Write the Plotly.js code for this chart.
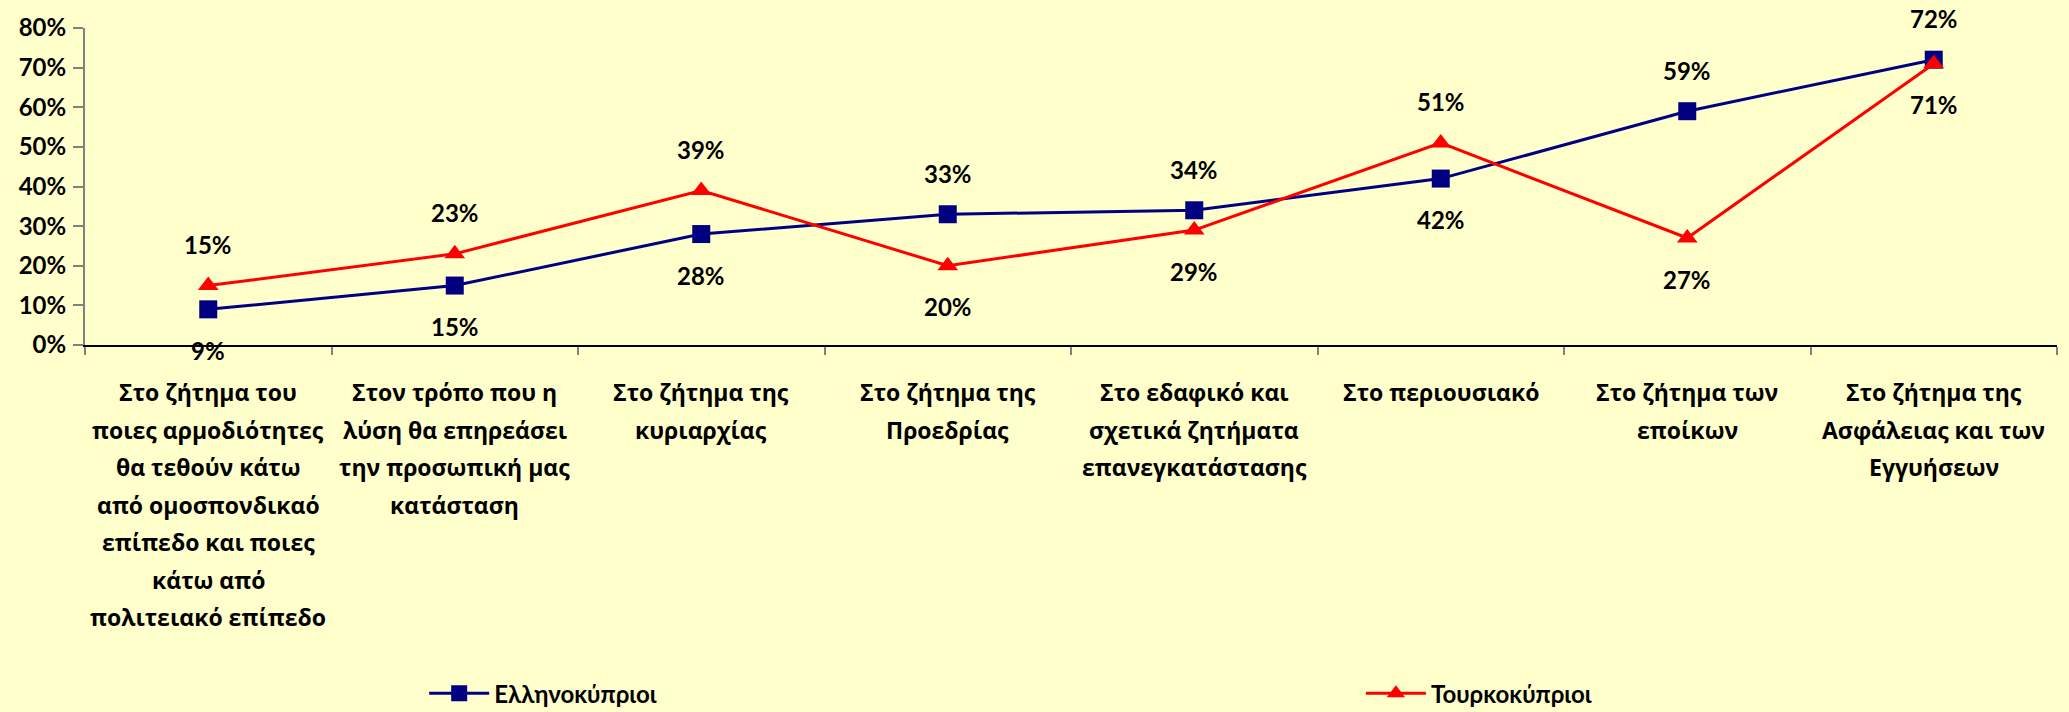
<!DOCTYPE html>
<html>
<head>
<meta charset="utf-8">
<script src="https://cdn.plot.ly/plotly-3.0.1.min.js"></script>
<style>html,body{margin:0;padding:0;background:#FFFFCC;}#chart{width:2069px;height:712px;}</style>
</head>
<body>
<div id="chart"></div>
<script>
// ---- data ----
const categories = [
  "Στο ζήτημα του<br>ποιες αρμοδιότητες<br>θα τεθούν κάτω<br>από ομοσπονδικαό<br>επίπεδο και ποιες<br>κάτω από<br>πολιτειακό επίπεδο",
  "Στον τρόπο που η<br>λύση θα επηρεάσει<br>την προσωπική μας<br>κατάσταση",
  "Στο ζήτημα της<br>κυριαρχίας",
  "Στο ζήτημα της<br>Προεδρίας",
  "Στο εδαφικό και<br>σχετικά ζητήματα<br>επανεγκατάστασης",
  "Στο περιουσιακό",
  "Στο ζήτημα των<br>εποίκων",
  "Στο ζήτημα της<br>Ασφάλειας και των<br>Εγγυήσεων"
];
const greekCypriots = [9, 15, 28, 33, 34, 42, 59, 72];
const turkishCypriots = [15, 23, 39, 20, 29, 51, 27, 71];
const greekLabelPos = ["below","below","below","above","above","below","above","above"];
const turkishLabelPos = ["above","above","above","below","below","above","below","below"];
const yTickVals = [0, 10, 20, 30, 40, 50, 60, 70, 80];
const yTickText = ["0%", "10%", "20%", "30%", "40%", "50%", "60%", "70%", "80%"];
const seriesNames = ["Ελληνοκύπριοι", "Τουρκοκύπριοι"];

// ---- styles ----
const numFont = {family: "Lato, 'DejaVu Sans', sans-serif", size: 24, color: "#000000", weight: 700};
const catFont = {family: "'Liberation Sans Narrow', 'Open Sans', sans-serif", size: 23, color: "#000000", weight: 700};
const legFont = {family: "Lato, 'DejaVu Sans', sans-serif", size: 24, color: "#000000", weight: 700};
const xIdx = categories.map((c, i) => i);

const traces = [
  {
    x: xIdx, y: greekCypriots, name: seriesNames[0], type: "scatter", mode: "lines+markers",
    line: {color: "#000080", width: 3},
    marker: {symbol: "square", size: 18, color: "#000080"},
    legend: "legend", hoverinfo: "y"
  },
  {
    x: xIdx, y: turkishCypriots, name: seriesNames[1], type: "scatter", mode: "lines+markers",
    line: {color: "#FF0000", width: 3},
    marker: {symbol: "triangle-up", size: 18, color: "#FF0000"},
    legend: "legend2", hoverinfo: "y"
  }
];

const annotations = [];
function addLabels(vals, pos) {
  vals.forEach((v, i) => {
    annotations.push({
      x: i, y: v, xref: "x", yref: "y", text: v + "%", showarrow: false,
      font: numFont, xanchor: "center", yanchor: "middle",
      yshift: pos[i] === "above" ? 41 : -41
    });
  });
}
addLabels(greekCypriots, greekLabelPos);
addLabels(turkishCypriots, turkishLabelPos);

// category labels: one annotation per line for Excel-like line spacing
categories.forEach((c, i) => {
  c.split("<br>").forEach((line, k) => {
    annotations.push({
      x: i, y: 0, xref: "x", yref: "paper", text: line, showarrow: false,
      font: catFont, xanchor: "center", yanchor: "middle",
      yshift: -(47 + k * 37.5)
    });
  });
});

const layout = {
  width: 2069, height: 712,
  paper_bgcolor: "#FFFFCC", plot_bgcolor: "#FFFFCC",
  margin: {l: 85, r: 12, t: 28, b: 367, autoexpand: false},
  showlegend: true,
  xaxis: {
    type: "linear", range: [-0.5, 7.5], tickvals: [-0.5,0.5,1.5,2.5,3.5,4.5,5.5,6.5,7.5],
    showticklabels: false, ticks: "outside", ticklen: 8, tickcolor: "#808080", tickwidth: 2,
    showline: true, linecolor: "#000000", linewidth: 2, showgrid: false, zeroline: false, fixedrange: true
  },
  yaxis: {
    range: [0, 80], tickvals: yTickVals, ticktext: yTickText,
    ticks: "outside", ticklen: 10, tickcolor: "#808080", tickwidth: 2,
    showline: true, linecolor: "#808080", linewidth: 2, showgrid: false, zeroline: false,
    tickfont: numFont, ticklabelstandoff: 2, fixedrange: true
  },
  legend: {
    x: 0.172, y: -1.10, xanchor: "left", yanchor: "middle", orientation: "h", itemwidth: 60,
    bgcolor: "rgba(0,0,0,0)", font: legFont
  },
  legend2: {
    x: 0.647, y: -1.10, xanchor: "left", yanchor: "middle", orientation: "h", itemwidth: 60,
    bgcolor: "rgba(0,0,0,0)", font: legFont
  },
  annotations: annotations
};

Plotly.newPlot("chart", traces, layout, {displayModeBar: false, staticPlot: true});
</script>
</body>
</html>
